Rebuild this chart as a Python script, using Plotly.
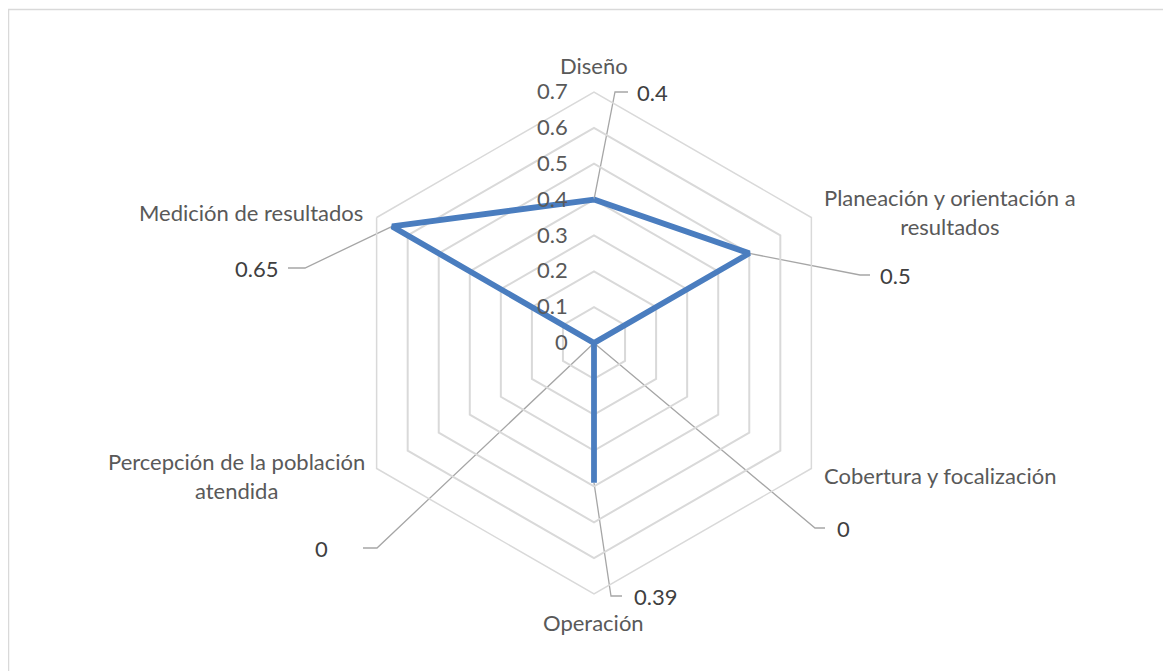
import math
import plotly.graph_objects as go

# ---- data ----
categories = [
    "Diseño",
    "Planeación y orientación a<br>resultados",
    "Cobertura y focalización",
    "Operación",
    "Percepción de la población<br>atendida",
    "Medición de resultados",
]
values = [0.4, 0.5, 0, 0.39, 0, 0.65]
radial_ticks = [0, 0.1, 0.2, 0.3, 0.4, 0.5, 0.6, 0.7]
value_labels = ["0.4", "0.5", "0", "0.39", "0", "0.65"]

# ---- layout geometry (pixels) ----
OFF = 8                              # page body margin
W, H = 1171 - OFF, 671 - OFF
CX, CY, R = 594 - OFF, 343 - OFF, 251   # polar centre / outer radius in px
RMAX = 0.7
k = RMAX / R                        # data units per pixel

# leader-line elbow / end offsets from centre (px, y up) and label gap
leader_elbow = [(21, 251), (266, 68), (221, -185), (17, -253), (-217, -205), (-289, 75)]
leader_end = [(34, 251), (276, 68), (231, -185), (28, -253), (-231, -205), (-306, 75)]
label_gap = [7, 8, 10, 10, -33, -8]

# category label anchor offsets from centre (px, y up)
cat_pos = [(0, 278), (228, 131), (228, -132), (-1, -279), (-227, -133), (-229, 131)]
cat_anchor = ["center", "left", "left", "center", "right", "right"]

TEXT = "#595959"
GRID = "#d9d9d9"
FONT = "Lato"
FS = 22

fig = go.Figure()

fig.add_trace(go.Scatterpolar(
    r=values + values[:1],
    theta=categories + categories[:1],
    mode="lines",
    line=dict(color="#4a7dbf", width=5.8),
    showlegend=False,
    hoverinfo="skip",
))

n = len(categories)
angles = [math.radians(90 - 360 * i / n) for i in range(n)]

annotations = []
for i, v in enumerate(values):
    px = v * math.cos(angles[i])
    py = v * math.sin(angles[i])
    ex, ey = leader_elbow[i]
    tx, ty = leader_end[i]
    fig.add_trace(go.Scatter(
        x=[px, ex * k, tx * k],
        y=[py, ey * k, ty * k],
        mode="lines",
        line=dict(color="#a6a6a6", width=1.3),
        showlegend=False,
        hoverinfo="skip",
        xaxis="x", yaxis="y",
    ))
    g = label_gap[i]
    annotations.append(dict(
        x=(tx + g) * k, y=ty * k, xref="x", yref="y",
        text=value_labels[i], showarrow=False,
        xanchor="left" if g > 0 else "right", yanchor="middle",
        font=dict(family=FONT, size=FS, color="#404040"),
    ))

for i, c in enumerate(categories):
    cx, cy = cat_pos[i]
    annotations.append(dict(
        x=cx * k, y=cy * k, xref="x", yref="y",
        text=c, showarrow=False, align="center",
        xanchor=cat_anchor[i], yanchor="middle",
        font=dict(family=FONT, size=FS, color=TEXT),
    ))

fig.update_layout(
    width=W, height=H,
    margin=dict(l=0, r=0, t=0, b=0),
    paper_bgcolor="white",
    plot_bgcolor="rgba(0,0,0,0)",
    font=dict(family=FONT, size=FS, color=TEXT),
    polar=dict(
        domain=dict(x=[(CX - R) / W, (CX + R) / W],
                    y=[(H - CY - R) / H, (H - CY + R) / H]),
        bgcolor="rgba(0,0,0,0)",
        gridshape="linear",
        radialaxis=dict(
            range=[0, RMAX], tickvals=radial_ticks,
            ticktext=[str(t) for t in radial_ticks],
            angle=90, side="counterclockwise", tickangle=90,
            showline=False, gridcolor=GRID, gridwidth=1.5,
            ticks="outside", ticklen=18, tickcolor="rgba(0,0,0,0)",
            tickfont=dict(family=FONT, size=FS, color=TEXT),
        ),
        angularaxis=dict(
            direction="clockwise", rotation=90,
            showgrid=False, showline=True, linecolor=GRID, linewidth=1.5,
            ticks="", showticklabels=False,
        ),
    ),
    xaxis=dict(range=[-CX * k, (W - CX) * k], domain=[0, 1], visible=False, fixedrange=True),
    yaxis=dict(range=[-(H - CY) * k, CY * k], domain=[0, 1], visible=False, fixedrange=True),
    annotations=annotations,
    shapes=[dict(type="rect", xref="paper", yref="paper",
                 x0=0.5 / W, x1=1.02, y0=-0.02, y1=1 - 1.5 / H,
                 line=dict(color=GRID, width=1.5), layer="below")],
)

fig.write_html("out.html")
